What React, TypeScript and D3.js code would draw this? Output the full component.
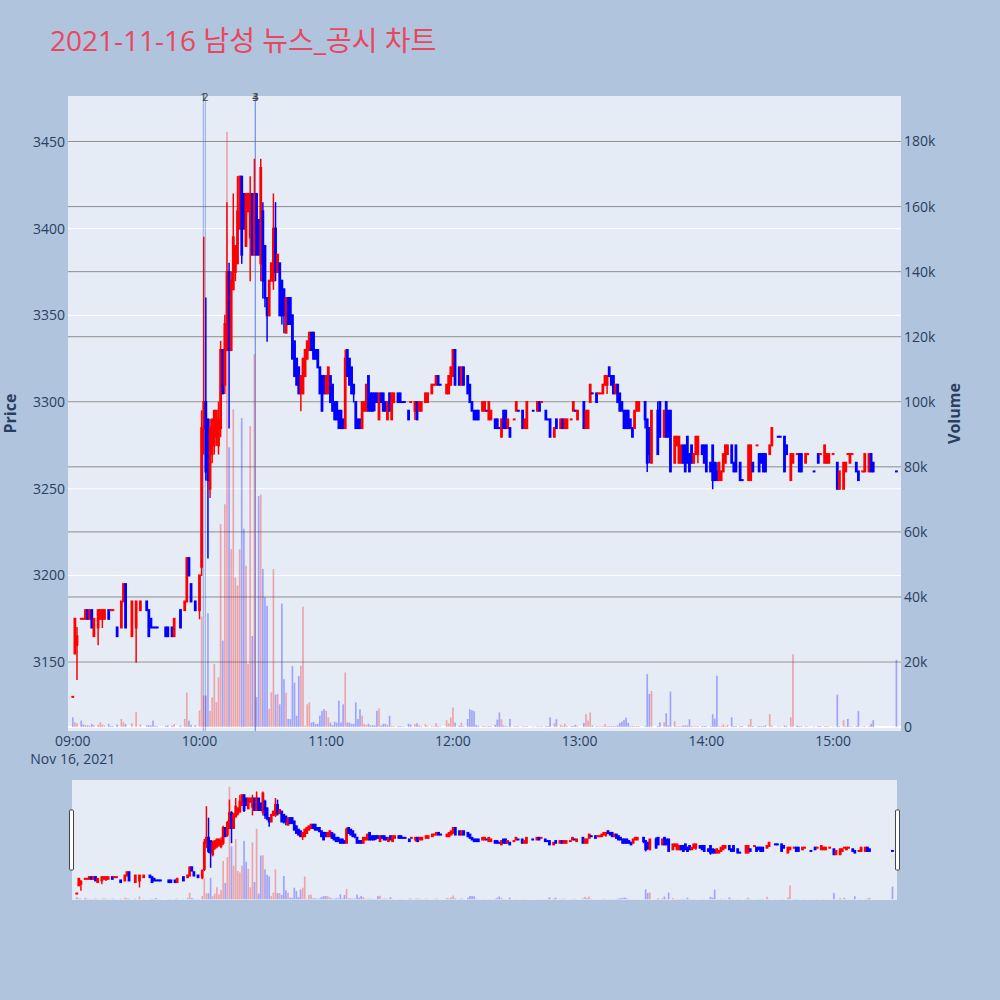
import { useEffect, useRef } from "react";
import * as d3 from "d3";

// [time, open, high, low, close, volume]
type Bar = [string, number, number, number, number, number];

const OPENING_BARS: Bar[] = [
  ["09:00", 3130, 3130, 3130, 3130, 3000], ["09:01", 3155, 3175, 3155, 3175, 1500], ["09:02", 3160, 3170, 3140, 3165, 1200],
  ["09:04", 3175, 3175, 3175, 3175, 2000], ["09:05", 3175, 3175, 3175, 3175, 800], ["09:06", 3175, 3180, 3175, 3180, 600],
  ["09:07", 3180, 3180, 3175, 3175, 500], ["09:08", 3175, 3180, 3175, 3180, 400], ["09:09", 3180, 3180, 3170, 3170, 1000],
  ["09:10", 3165, 3175, 3165, 3175, 600], ["09:12", 3170, 3180, 3160, 3180, 700], ["09:13", 3175, 3180, 3175, 3180, 1500],
  ["09:14", 3175, 3180, 3170, 3180, 800], ["09:15", 3175, 3180, 3175, 3180, 500], ["09:17", 3180, 3180, 3175, 3175, 1000],
  ["09:18", 3180, 3180, 3180, 3180, 300], ["09:19", 3180, 3180, 3180, 3180, 300], ["09:21", 3170, 3170, 3165, 3165, 800],
  ["09:23", 3170, 3185, 3170, 3185, 2500], ["09:24", 3185, 3195, 3185, 3195, 1500], ["09:25", 3195, 3195, 3170, 3170, 900],
  ["09:28", 3165, 3185, 3165, 3185, 1200], ["09:30", 3170, 3185, 3150, 3185, 4600], ["09:32", 3180, 3185, 3180, 3185, 800],
  ["09:35", 3185, 3185, 3180, 3180, 500], ["09:36", 3180, 3180, 3165, 3165, 600], ["09:37", 3175, 3175, 3170, 3170, 500],
  ["09:38", 3170, 3170, 3170, 3170, 2000], ["09:39", 3170, 3170, 3170, 3170, 300], ["09:40", 3170, 3170, 3170, 3170, 300],
  ["09:44", 3170, 3170, 3165, 3165, 400], ["09:45", 3170, 3170, 3165, 3165, 500], ["09:47", 3170, 3170, 3165, 3165, 400],
  ["09:48", 3165, 3175, 3165, 3175, 900], ["09:51", 3180, 3180, 3170, 3170, 500], ["09:53", 3180, 3185, 3180, 3185, 2500],
  ["09:54", 3185, 3210, 3185, 3210, 10600], ["09:55", 3210, 3210, 3200, 3200, 2000], ["09:56", 3195, 3195, 3185, 3185, 700],
  ["09:58", 3185, 3185, 3180, 3180, 600],
];

const SPIKE_BARS: Bar[] = [
  ["10:00", 3180, 3200, 3175, 3200, 5100], ["10:01", 3205, 3295, 3200, 3285, 34000], ["10:02", 3285, 3395, 3270, 3300, 9700],
  ["10:03", 3300, 3360, 3255, 3260, 9700], ["10:04", 3290, 3290, 3210, 3255, 35000], ["10:05", 3250, 3290, 3245, 3285, 5000],
  ["10:06", 3270, 3290, 3265, 3290, 9200], ["10:07", 3275, 3295, 3270, 3295, 19400], ["10:08", 3280, 3295, 3275, 3295, 7700],
  ["10:09", 3275, 3300, 3270, 3290, 15300], ["10:10", 3285, 3335, 3280, 3330, 62400], ["10:11", 3330, 3330, 3305, 3305, 26600],
  ["10:12", 3310, 3350, 3305, 3345, 68500], ["10:13", 3330, 3415, 3330, 3375, 183000], ["10:14", 3375, 3380, 3285, 3330, 86000],
  ["10:15", 3330, 3375, 3330, 3370, 54700], ["10:16", 3365, 3420, 3365, 3395, 97700], ["10:17", 3375, 3390, 3370, 3390, 46000],
  ["10:18", 3380, 3430, 3380, 3410, 43500], ["10:19", 3400, 3430, 3400, 3430, 54700], ["10:20", 3430, 3430, 3380, 3385, 95000],
  ["10:21", 3420, 3420, 3400, 3400, 61000], ["10:22", 3390, 3420, 3390, 3420, 49600], ["10:23", 3410, 3420, 3410, 3420, 19400],
  ["10:24", 3395, 3430, 3370, 3420, 92500], ["10:25", 3420, 3420, 3385, 3385, 28000], ["10:26", 3385, 3440, 3385, 3420, 114600],
  ["10:27", 3420, 3420, 3385, 3385, 9200], ["10:28", 3405, 3405, 3385, 3385, 71000], ["10:29", 3380, 3440, 3370, 3435, 71500],
  ["10:30", 3410, 3415, 3360, 3370, 48600], ["10:31", 3390, 3390, 3355, 3360, 39900], ["10:32", 3360, 3360, 3335, 3350, 37300],
  ["10:33", 3350, 3370, 3350, 3370, 5600], ["10:34", 3370, 3380, 3370, 3380, 10700], ["10:35", 3370, 3420, 3365, 3400, 48600],
  ["10:36", 3400, 3415, 3370, 3375, 10000], ["10:37", 3375, 3385, 3375, 3385, 10200], ["10:38", 3380, 3380, 3350, 3350, 7000],
  ["10:39", 3370, 3370, 3345, 3350, 38000], ["10:40", 3365, 3365, 3340, 3350, 14700], ["10:41", 3340, 3360, 3340, 3360, 10600],
  ["10:42", 3360, 3360, 3345, 3345, 2500], ["10:43", 3360, 3360, 3345, 3345, 2500], ["10:44", 3350, 3350, 3325, 3325, 18800],
  ["10:45", 3335, 3335, 3315, 3315, 13700], ["10:46", 3325, 3325, 3310, 3310, 3500], ["10:47", 3320, 3320, 3305, 3305, 15700],
  ["10:48", 3305, 3315, 3295, 3315, 18800], ["10:49", 3305, 3325, 3305, 3325, 37000], ["10:50", 3315, 3330, 3315, 3330, 400],
  ["10:51", 3325, 3335, 3325, 3335, 7000], ["10:52", 3330, 3340, 3330, 3340, 7600], ["10:53", 3340, 3340, 3330, 3330, 1400],
  ["10:54", 3340, 3340, 3325, 3325, 1600], ["10:55", 3330, 3330, 3325, 3325, 1000], ["10:56", 3330, 3330, 3320, 3320, 1000],
  ["10:57", 3320, 3320, 3305, 3305, 3500], ["10:58", 3315, 3315, 3295, 3295, 5000], ["10:59", 3315, 3315, 3305, 3305, 5500],
];

const MIDDAY_BARS: Bar[] = [
  ["11:00", 3305, 3315, 3305, 3315, 5000], ["11:01", 3305, 3320, 3305, 3320, 3000], ["11:02", 3315, 3315, 3300, 3300, 1400],
  ["11:03", 3310, 3310, 3295, 3295, 600], ["11:04", 3300, 3300, 3290, 3290, 1600], ["11:05", 3300, 3300, 3290, 3290, 1400],
  ["11:06", 3295, 3295, 3285, 3285, 8100], ["11:07", 3295, 3295, 3285, 3285, 1400], ["11:08", 3290, 3290, 3285, 3285, 7000],
  ["11:09", 3285, 3330, 3285, 3325, 16800], ["11:10", 3330, 3330, 3315, 3315, 1400], ["11:11", 3325, 3325, 3310, 3310, 1400],
  ["11:12", 3320, 3320, 3305, 3305, 1000], ["11:13", 3310, 3310, 3300, 3305, 1000], ["11:14", 3300, 3300, 3285, 3285, 7600],
  ["11:15", 3290, 3290, 3285, 3285, 2500], ["11:16", 3290, 3290, 3285, 3285, 5500], ["11:17", 3285, 3300, 3285, 3300, 3500],
  ["11:18", 3295, 3300, 3295, 3300, 1000], ["11:19", 3295, 3310, 3295, 3310, 700], ["11:20", 3315, 3315, 3295, 3295, 1000],
  ["11:21", 3305, 3305, 3295, 3295, 500], ["11:22", 3305, 3305, 3295, 3295, 600], ["11:23", 3305, 3305, 3295, 3300, 500],
  ["11:24", 3305, 3305, 3300, 3300, 5000], ["11:25", 3290, 3305, 3290, 3305, 5700], ["11:26", 3305, 3305, 3300, 3300, 500],
  ["11:27", 3305, 3305, 3295, 3295, 1000], ["11:28", 3300, 3300, 3295, 3295, 1000], ["11:29", 3290, 3300, 3290, 3300, 600],
  ["11:30", 3305, 3305, 3295, 3295, 3500], ["11:31", 3290, 3305, 3290, 3305, 400], ["11:32", 3300, 3305, 3300, 3305, 300],
  ["11:34", 3305, 3305, 3300, 3300, 300], ["11:35", 3305, 3305, 3300, 3300, 300], ["11:36", 3300, 3300, 3300, 3300, 200],
  ["11:37", 3300, 3300, 3300, 3300, 200], ["11:39", 3295, 3295, 3290, 3290, 1000], ["11:40", 3300, 3300, 3300, 3300, 800],
  ["11:42", 3295, 3300, 3290, 3300, 900], ["11:43", 3300, 3300, 3290, 3290, 1200], ["11:44", 3295, 3300, 3295, 3300, 600],
  ["11:45", 3295, 3300, 3295, 3300, 300], ["11:47", 3300, 3305, 3300, 3305, 900], ["11:48", 3300, 3305, 3300, 3305, 400],
  ["11:50", 3305, 3310, 3305, 3310, 300], ["11:51", 3310, 3310, 3310, 3310, 200], ["11:52", 3310, 3315, 3310, 3315, 1200],
  ["11:53", 3315, 3315, 3310, 3310, 300], ["11:54", 3310, 3310, 3310, 3310, 200], ["11:57", 3305, 3310, 3305, 3310, 2100],
  ["11:58", 3305, 3315, 3305, 3315, 1200], ["11:59", 3310, 3320, 3310, 3320, 3000], ["12:00", 3315, 3330, 3315, 3330, 6000],
  ["12:01", 3330, 3330, 3310, 3310, 1400], ["12:03", 3320, 3320, 3310, 3310, 400], ["12:04", 3310, 3320, 3310, 3320, 1400],
  ["12:05", 3320, 3320, 3310, 3310, 300], ["12:07", 3315, 3315, 3305, 3305, 2500], ["12:08", 3310, 3310, 3300, 3300, 5500],
  ["12:09", 3300, 3300, 3295, 3295, 5200], ["12:10", 3295, 3295, 3290, 3290, 4900], ["12:11", 3295, 3295, 3290, 3290, 600],
  ["12:12", 3295, 3295, 3290, 3290, 400], ["12:14", 3295, 3300, 3295, 3300, 300], ["12:15", 3295, 3300, 3295, 3300, 300],
  ["12:16", 3295, 3295, 3295, 3295, 200], ["12:17", 3290, 3300, 3290, 3300, 300], ["12:18", 3290, 3295, 3290, 3295, 300],
  ["12:20", 3290, 3290, 3285, 3285, 700], ["12:21", 3290, 3290, 3285, 3285, 2300], ["12:22", 3285, 3285, 3285, 3285, 4500],
  ["12:23", 3280, 3290, 3280, 3290, 2400], ["12:24", 3295, 3295, 3285, 3285, 500], ["12:25", 3295, 3295, 3285, 3285, 300],
  ["12:26", 3285, 3290, 3285, 3290, 200], ["12:27", 3285, 3285, 3280, 3280, 2500], ["12:29", 3290, 3290, 3290, 3290, 200],
  ["12:30", 3295, 3300, 3295, 3300, 300], ["12:31", 3295, 3295, 3295, 3295, 200], ["12:33", 3295, 3295, 3285, 3285, 200],
  ["12:34", 3285, 3290, 3285, 3290, 300], ["12:35", 3285, 3300, 3285, 3300, 300], ["12:38", 3295, 3295, 3295, 3295, 200],
  ["12:40", 3295, 3300, 3295, 3300, 300], ["12:41", 3300, 3300, 3295, 3295, 200], ["12:42", 3300, 3300, 3300, 3300, 300],
  ["12:44", 3295, 3295, 3290, 3290, 300], ["12:45", 3290, 3290, 3290, 3290, 300], ["12:46", 3290, 3290, 3280, 3280, 3000],
  ["12:48", 3280, 3285, 3280, 3285, 1200], ["12:49", 3290, 3290, 3285, 3285, 2400], ["12:51", 3285, 3290, 3285, 3290, 700],
  ["12:52", 3290, 3290, 3285, 3285, 300], ["12:53", 3285, 3290, 3285, 3290, 1000], ["12:54", 3285, 3290, 3285, 3290, 300],
  ["12:56", 3290, 3290, 3290, 3290, 300], ["12:57", 3295, 3300, 3295, 3300, 400], ["12:58", 3295, 3295, 3295, 3295, 700],
  ["12:59", 3290, 3295, 3290, 3295, 300],
];

const AFTERNOON_BARS: Bar[] = [
  ["13:02", 3300, 3300, 3285, 3285, 1300], ["13:03", 3285, 3295, 3285, 3295, 4000], ["13:04", 3285, 3295, 3285, 3295, 2000],
  ["13:05", 3300, 3310, 3300, 3310, 4500], ["13:06", 3305, 3305, 3305, 3305, 500], ["13:08", 3305, 3305, 3300, 3300, 300],
  ["13:09", 3305, 3305, 3305, 3305, 200], ["13:10", 3305, 3305, 3305, 3305, 200], ["13:11", 3305, 3310, 3305, 3310, 300],
  ["13:12", 3310, 3315, 3310, 3315, 900], ["13:13", 3310, 3315, 3305, 3315, 300], ["13:14", 3320, 3320, 3315, 3315, 300],
  ["13:15", 3315, 3315, 3310, 3310, 300], ["13:16", 3315, 3315, 3305, 3305, 300], ["13:17", 3305, 3310, 3305, 3310, 300],
  ["13:18", 3310, 3310, 3300, 3300, 500], ["13:19", 3305, 3305, 3295, 3295, 1300], ["13:20", 3300, 3300, 3295, 3295, 1700],
  ["13:21", 3295, 3295, 3285, 3285, 2200], ["13:22", 3295, 3295, 3285, 3285, 2900], ["13:23", 3295, 3295, 3285, 3285, 1300],
  ["13:24", 3290, 3290, 3285, 3285, 300], ["13:25", 3285, 3285, 3280, 3280, 300], ["13:26", 3285, 3295, 3285, 3295, 300],
  ["13:27", 3295, 3300, 3295, 3300, 300], ["13:28", 3295, 3300, 3295, 3300, 300], ["13:31", 3300, 3300, 3285, 3290, 300],
  ["13:32", 3290, 3290, 3260, 3265, 16300], ["13:33", 3285, 3285, 3265, 3270, 10200], ["13:34", 3265, 3295, 3265, 3295, 11100],
  ["13:37", 3295, 3300, 3270, 3270, 300], ["13:38", 3300, 3300, 3280, 3280, 1500], ["13:40", 3280, 3295, 3280, 3295, 1500],
  ["13:41", 3300, 3300, 3280, 3280, 4300], ["13:42", 3295, 3295, 3280, 3280, 500], ["13:43", 3295, 3295, 3260, 3260, 10900],
  ["13:45", 3265, 3280, 3265, 3280, 1800], ["13:46", 3275, 3280, 3275, 3280, 300], ["13:47", 3265, 3280, 3265, 3280, 300],
  ["13:48", 3265, 3275, 3265, 3275, 300], ["13:49", 3275, 3275, 3265, 3265, 500], ["13:50", 3275, 3275, 3260, 3260, 500],
  ["13:51", 3280, 3280, 3265, 3265, 500], ["13:52", 3270, 3270, 3260, 3260, 2400], ["13:53", 3275, 3275, 3265, 3265, 300],
  ["13:54", 3265, 3270, 3265, 3270, 300], ["13:55", 3270, 3280, 3270, 3280, 300], ["13:56", 3270, 3280, 3265, 3280, 300],
  ["13:58", 3275, 3275, 3270, 3270, 300], ["13:59", 3275, 3275, 3265, 3265, 300], ["14:00", 3275, 3275, 3260, 3260, 300],
  ["14:02", 3265, 3265, 3260, 3260, 300], ["14:03", 3275, 3275, 3250, 3255, 4000], ["14:04", 3265, 3265, 3255, 3255, 2600],
  ["14:05", 3260, 3265, 3255, 3255, 15800], ["14:06", 3255, 3265, 3255, 3265, 300], ["14:07", 3255, 3260, 3255, 3260, 300],
  ["14:08", 3260, 3270, 3260, 3270, 800], ["14:09", 3265, 3275, 3265, 3275, 300], ["14:10", 3270, 3275, 3270, 3275, 700],
  ["14:12", 3275, 3275, 3265, 3265, 3000], ["14:13", 3265, 3265, 3260, 3260, 300], ["14:14", 3275, 3275, 3260, 3260, 300],
  ["14:16", 3265, 3265, 3255, 3255, 300], ["14:17", 3255, 3255, 3255, 3255, 300], ["14:20", 3255, 3275, 3255, 3275, 700],
  ["14:21", 3255, 3275, 3255, 3275, 2500], ["14:22", 3265, 3265, 3260, 3260, 300], ["14:24", 3275, 3275, 3275, 3275, 200],
  ["14:25", 3270, 3270, 3260, 3260, 300], ["14:26", 3270, 3270, 3265, 3265, 300], ["14:27", 3270, 3270, 3260, 3260, 300],
  ["14:28", 3270, 3270, 3260, 3260, 500], ["14:30", 3270, 3275, 3270, 3275, 4000], ["14:31", 3275, 3285, 3275, 3285, 500],
  ["14:34", 3280, 3280, 3280, 3280, 200], ["14:35", 3280, 3280, 3280, 3280, 200], ["14:37", 3280, 3280, 3260, 3260, 500],
  ["14:38", 3275, 3275, 3270, 3270, 300], ["14:40", 3255, 3270, 3255, 3270, 3000], ["14:41", 3265, 3270, 3265, 3270, 22400],
  ["14:43", 3270, 3270, 3270, 3270, 500], ["14:44", 3270, 3270, 3260, 3260, 300], ["14:45", 3270, 3270, 3260, 3260, 300],
  ["14:47", 3265, 3270, 3265, 3270, 300], ["14:48", 3270, 3270, 3270, 3270, 200], ["14:51", 3260, 3260, 3260, 3260, 200],
  ["14:53", 3270, 3270, 3265, 3265, 300], ["14:54", 3270, 3270, 3270, 3270, 300], ["14:56", 3265, 3275, 3265, 3275, 300],
  ["14:57", 3265, 3270, 3265, 3270, 300], ["14:58", 3265, 3270, 3265, 3270, 200], ["15:00", 3270, 3270, 3270, 3270, 200],
  ["15:02", 3265, 3265, 3250, 3250, 10000], ["15:03", 3250, 3260, 3250, 3260, 300], ["15:05", 3250, 3265, 3250, 3265, 2100],
  ["15:06", 3260, 3265, 3260, 3265, 300], ["15:07", 3270, 3270, 3270, 3270, 2500], ["15:08", 3265, 3270, 3265, 3270, 300],
  ["15:09", 3270, 3270, 3270, 3270, 200], ["15:11", 3265, 3265, 3260, 3260, 300], ["15:12", 3260, 3260, 3255, 3255, 4900],
  ["15:14", 3260, 3260, 3260, 3260, 200], ["15:15", 3260, 3270, 3260, 3270, 300], ["15:17", 3260, 3270, 3260, 3270, 300],
  ["15:18", 3270, 3270, 3260, 3260, 1000], ["15:19", 3265, 3265, 3260, 3260, 2100], ["15:30", 3260, 3260, 3260, 3260, 20700],
];

const NEWS_TIMES = ["10:01:48", "10:02:45", "10:26:25", "10:26:25"];
const NEWS_LABELS = ["1", "2", "3", "4"];
const PRICE_TICKS = [3150, 3200, 3250, 3300, 3350, 3400, 3450];
const VOLUME_TICKS = [0, 20000, 40000, 60000, 80000, 100000, 120000, 140000, 160000, 180000];
const TIME_TICKS = ["09:00", "10:00", "11:00", "12:00", "13:00", "14:00", "15:00"];

const UP = "#ff0000";
const DOWN = "#0000ff";
const INK = "#2a3f5f";
const FONT = "'Open Sans', 'Noto Sans CJK KR', verdana, arial, sans-serif";

const at = (t: string) => {
  const [h, m, s] = t.split(":").map(Number);
  return new Date(2021, 10, 16, h, m, s || 0);
};

export default function App() {
  const svgRef = useRef<SVGSVGElement>(null);

  useEffect(() => {
    if (!svgRef.current) return;
    const svg = d3.select(svgRef.current);
    svg.selectAll("*").remove();

    // plotly-like direction: flat candles compare with previous close
    let prevC: number | null = null, prevUp = true;
    const rows = [...OPENING_BARS, ...SPIKE_BARS, ...MIDDAY_BARS, ...AFTERNOON_BARS].map(([t, o, h, l, c, v]) => {
      const up = c === o ? (prevC !== null && c !== prevC ? c > prevC : prevUp) : c > o;
      prevUp = up; prevC = c;
      return { t: at(t), o, h, l, c, v, up, volUp: c > o };
    });

    const M = { l: 68, r: 901, t: 96, b: 731 };
    const S = { l: 72, r: 897, t: 780, b: 900 };
    const xDomain = [at("08:57:44"), at("15:32:10")];
    const pDomain = [3110.3, 3476.5];
    const vDomain = [-1200, 194000];

    const x = d3.scaleTime().domain(xDomain).range([M.l, M.r]);
    const yP = d3.scaleLinear().domain(pDomain).range([M.b, M.t]);
    const yV = d3.scaleLinear().domain(vDomain).range([M.b, M.t]);
    const xs = d3.scaleTime().domain(xDomain).range([S.l, S.r]);
    const ysP = d3.scaleLinear().domain(pDomain).range([S.b, S.t]);
    const ysV = d3.scaleLinear().domain(vDomain).range([S.b, S.t]);

    svg.append("rect").attr("width", 1000).attr("height", 1000).attr("fill", "#b0c4de");

    // title
    svg.append("text").attr("x", 50).attr("y", 51).attr("font-family", FONT).attr("font-size", 28)
      .attr("fill", "#e8475f").text("2021-11-16 남성 뉴스_공시 차트");

    const drawTraces = (g: any, xx: any, py: any, vy: any) => {
      g.selectAll(".vol").data(rows).join("rect")
        .attr("x", (d: any) => xx(d.t) - 0.85).attr("width", 1.7)
        .attr("y", (d: any) => vy(d.v)).attr("height", (d: any) => Math.max(0, vy(0) - vy(d.v)))
        .attr("fill", (d: any) => (d.volUp ? UP : DOWN)).attr("fill-opacity", 0.3);
      g.selectAll(".wick").data(rows).join("line")
        .attr("x1", (d: any) => xx(d.t)).attr("x2", (d: any) => xx(d.t))
        .attr("y1", (d: any) => py(d.h) - 0.5).attr("y2", (d: any) => py(d.l) + 0.5)
        .attr("stroke", (d: any) => (d.up ? UP : DOWN)).attr("stroke-width", 1.5);
      g.selectAll(".body").data(rows).join("rect")
        .attr("x", (d: any) => xx(d.t) - 1.4).attr("width", 2.8)
        .attr("y", (d: any) => py(Math.max(d.o, d.c)) - 1)
        .attr("height", (d: any) => py(Math.min(d.o, d.c)) - py(Math.max(d.o, d.c)) + 2)
        .attr("fill", (d: any) => (d.up ? UP : DOWN));
    };

    // main plot
    svg.append("rect").attr("x", M.l).attr("y", M.t).attr("width", M.r - M.l).attr("height", M.b - M.t).attr("fill", "#e5ecf6");
    const main = svg.append("g");
    PRICE_TICKS.forEach(v => {
      main.append("line").attr("x1", M.l).attr("x2", M.r).attr("y1", yP(v)).attr("y2", yP(v)).attr("stroke", "#fff").attr("stroke-width", 1);
    });
    VOLUME_TICKS.slice(1).forEach(v => {
      main.append("line").attr("x1", M.l).attr("x2", M.r).attr("y1", yV(v)).attr("y2", yV(v)).attr("stroke", "#8c8c8c").attr("stroke-width", 1);
    });
    main.append("line").attr("x1", M.l).attr("x2", M.r).attr("y1", yV(0)).attr("y2", yV(0)).attr("stroke", "#fff").attr("stroke-width", 2);

    NEWS_TIMES.forEach(t => {
      main.append("line").attr("x1", x(at(t))).attr("x2", x(at(t))).attr("y1", M.t).attr("y2", M.b)
        .attr("stroke", "#4169e1").attr("stroke-opacity", 0.5).attr("stroke-width", 1);
    });

    drawTraces(main.append("g"), x, yP, yV);

    NEWS_TIMES.forEach((t, i) => {
      main.append("text").attr("x", x(at(t))).attr("y", 101).attr("text-anchor", "middle")
        .attr("font-family", FONT).attr("font-size", 11).attr("fill", "#444").text(NEWS_LABELS[i]);
    });

    // axes text
    const txt = (sel: any) => sel.attr("font-family", FONT).attr("font-size", 14).attr("fill", INK);
    PRICE_TICKS.forEach(v => {
      txt(svg.append("text")).attr("x", 65).attr("y", yP(v)).attr("dy", "0.35em").attr("text-anchor", "end").text(v);
    });
    VOLUME_TICKS.forEach(v => {
      txt(svg.append("text")).attr("x", 904).attr("y", yV(v)).attr("dy", "0.35em").text(v === 0 ? "0" : `${v / 1000}k`);
    });
    TIME_TICKS.forEach((t, i) => {
      txt(svg.append("text")).attr("x", x(at(t))).attr("y", 746).attr("text-anchor", "middle").text(t);
      if (i === 0) txt(svg.append("text")).attr("x", x(at(t))).attr("y", 764).attr("text-anchor", "middle").text("Nov 16, 2021");
    });
    txt(svg.append("text")).attr("font-size", 16).attr("font-weight", 700)
      .attr("transform", `translate(10,${(M.t + M.b) / 2}) rotate(-90)`).attr("dy", "0.35em").attr("text-anchor", "middle").text("Price");
    txt(svg.append("text")).attr("font-size", 16).attr("font-weight", 700)
      .attr("transform", `translate(954,${(M.t + M.b) / 2}) rotate(-90)`).attr("dy", "0.35em").attr("text-anchor", "middle").text("Volume");

    // range slider
    svg.append("rect").attr("x", S.l).attr("y", S.t).attr("width", S.r - S.l).attr("height", S.b - S.t).attr("fill", "#e5ecf6");
    const clipId = "slider-clip";
    svg.append("clipPath").attr("id", clipId).append("rect").attr("x", S.l).attr("y", S.t).attr("width", S.r - S.l).attr("height", S.b - S.t);
    const sg = svg.append("g").attr("clip-path", `url(#${clipId})`);
    drawTraces(sg, xs, ysP, ysV);
    [S.l - 2.5, S.r - 1.5].forEach(hx => {
      svg.append("rect").attr("x", hx).attr("y", S.t + 30).attr("width", 4).attr("height", 60).attr("rx", 1)
        .attr("fill", "#fff").attr("stroke", "#444").attr("stroke-width", 1);
    });
  }, []);

  return <svg ref={svgRef} width={1000} height={1000} style={{ position: "absolute", left: 0, top: 0 }} />;
}
